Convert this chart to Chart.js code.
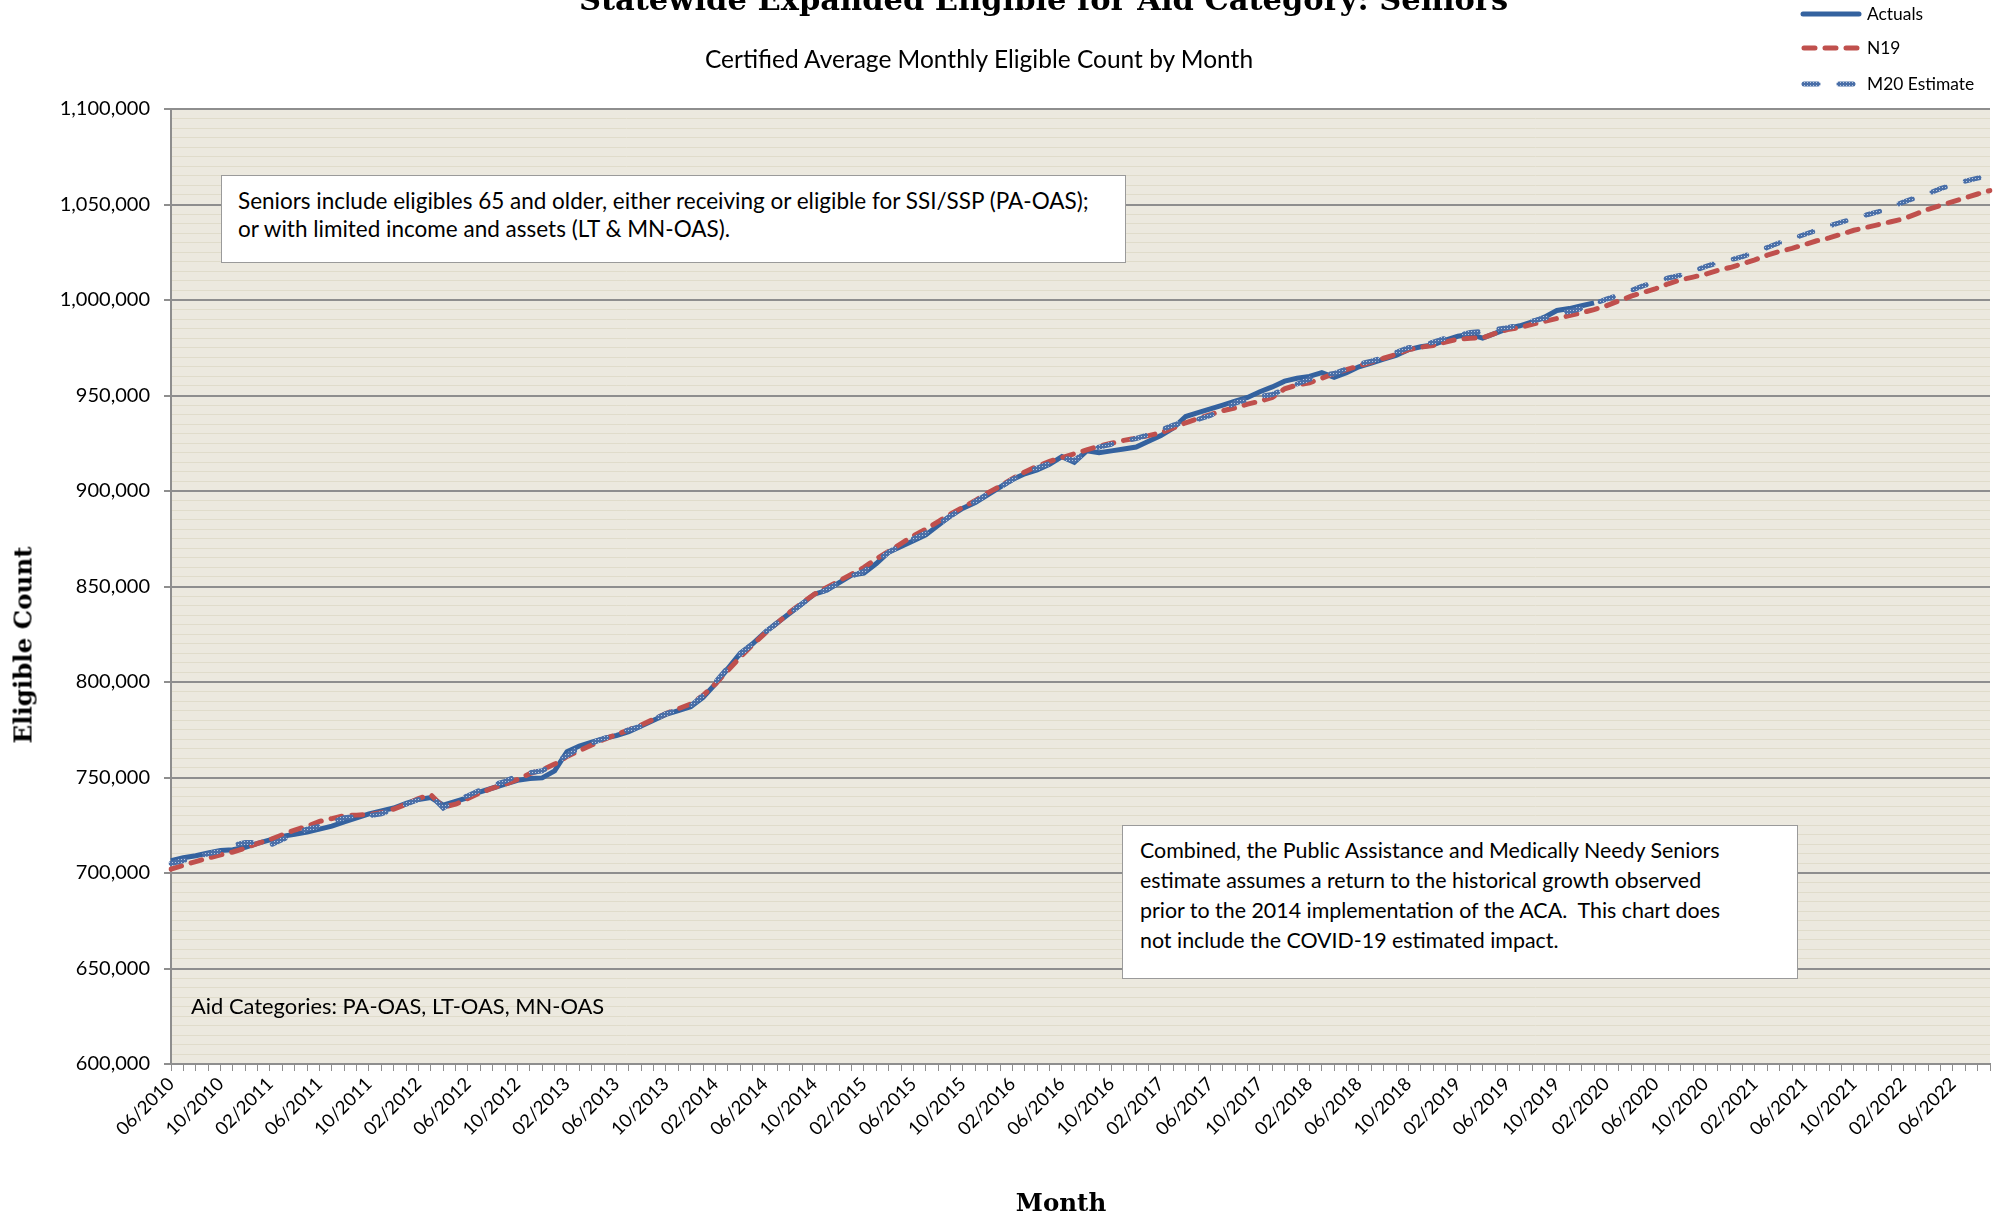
<!DOCTYPE html>
<html>
<head>
<meta charset="utf-8">
<script src="https://cdn.jsdelivr.net/npm/chart.js@4.4.1/dist/chart.umd.min.js"></script>
<style>
  body { margin: 0; background: #fff; }
  #wrap { position: relative; width: 1999px; height: 1217px; overflow: hidden; font-family: Lato, "Liberation Sans", sans-serif; color: #000; }
  #chart { position: absolute; left: 0; top: 0; }
  .title { position: absolute; left: 0; width: 2087px; text-align: center; top: -19px; font: bold 30.5px "DejaVu Serif", serif; white-space: nowrap; }
  .subtitle { position: absolute; left: 0; width: 1958px; text-align: center; top: 44px; font-size: 24.5px; white-space: nowrap; }
  .axis-title { position: absolute; font: bold 24.5px "DejaVu Serif", serif; white-space: nowrap; transform: translate(-50%, -50%); }
  .legend { position: absolute; left: 1800px; top: 0; font-size: 17.4px; }
  .legend div { position: absolute; left: 0; height: 20px; white-space: nowrap; }
  .legend svg { position: absolute; left: 0; top: 4px; }
  .legend span { position: absolute; left: 67px; top: 0; line-height: 20px; }
  .note { position: absolute; background: #fff; border: 1.5px solid #9a9a9a; white-space: nowrap; box-sizing: border-box; }
  .plain { position: absolute; font-size: 21.9px; white-space: nowrap; }
</style>
</head>
<body>
<div id="wrap">
  <canvas id="chart" width="1999" height="1217"></canvas>
  <div class="title">Statewide Expanded Eligible for Aid Category: Seniors</div>
  <div class="subtitle">Certified Average Monthly Eligible Count by Month</div>
  <div class="axis-title" style="left:23px;top:645px;transform:translate(-50%, -50%) rotate(-90deg);">Eligible Count</div>
  <div class="axis-title" style="left:1061px;top:1202px;">Month</div>
  <div class="legend">
    <div style="top:4px"><svg width="62" height="12"><line x1="3" y1="6" x2="59" y2="6" stroke="#34629F" stroke-width="5" stroke-linecap="round"/></svg><span>Actuals</span></div>
    <div style="top:38px"><svg width="62" height="12"><line x1="4" y1="6" x2="59" y2="6" stroke="#C0504D" stroke-width="5" stroke-linecap="round" stroke-dasharray="11 10"/></svg><span>N19</span></div>
    <div style="top:74px"><svg width="62" height="12"><defs><pattern id="hatch" width="3" height="3" patternUnits="userSpaceOnUse"><rect width="3" height="3" fill="#4A6FA8"/><rect x="1" y="1" width="1" height="1" fill="#B9C8E0"/></pattern></defs><line x1="4" y1="6" x2="59" y2="6" stroke="url(#hatch)" stroke-width="5" stroke-linecap="round" stroke-dasharray="14 21"/></svg><span>M20 Estimate</span></div>
  </div>
  <div class="note" style="left:221px;top:175px;width:905px;height:88px;padding:11px 0 0 16px;line-height:28px;font-size:22.5px;">Seniors include eligibles 65 and older, either receiving or eligible for SSI/SSP (PA-OAS);<br>or with limited income and assets (LT &amp; MN-OAS).</div>
  <div class="note" style="left:1122px;top:825px;width:676px;height:154px;padding:9px 0 0 17px;line-height:30px;font-size:21.4px;">Combined, the Public Assistance and Medically Needy Seniors<br>estimate assumes a return to the historical growth observed<br>prior to the 2014 implementation of the ACA.&nbsp; This chart does<br>not include the COVID-19 estimated impact.</div>
  <div class="plain" style="left:191px;top:992px;">Aid Categories: PA-OAS, LT-OAS, MN-OAS</div>
</div>
<script>
// months 06/2010 .. 09/2022, one category per month, label every 4th
const firstYear = 2010, firstMonth = 6, monthCount = 148;
const months = [];
for (let i = 0; i < monthCount; i++) {
    const m = (firstMonth - 1 + i) % 12 + 1;
    const y = firstYear + Math.floor((firstMonth - 1 + i) / 12);
    months.push((m < 10 ? '0' : '') + m + '/' + y);
}

// Actuals: 06/2010 .. 01/2020
const actuals = [
    706500, 708000, 709000, 710500, 711800, 712200, 713500, 715500, 717300, 719200,
    720300, 721500, 723000, 724500, 726800, 728800, 731000, 732500, 734000, 736500,
    738500, 739500, 735500, 737500, 739500, 742500, 744500, 746500, 748500, 749500,
    749800, 753500, 763500, 766500, 768500, 770500, 772000, 774000, 777000, 780000,
    783000, 785000, 787000, 792000, 799000, 807000, 815000, 820000, 826000, 831000,
    836000, 841000, 846000, 848000, 852000, 856000, 857000, 862000, 868000, 871000,
    874000, 877000, 882000, 887000, 891000, 894000, 898000, 902000, 906000, 909000,
    911000, 914000, 918000, 915000, 921000, 920000, 921000, 922000, 923000, 926000,
    929000, 933000, 939000, 941000, 943000, 945000, 947000, 949000, 952000, 954500,
    957500, 959000, 960000, 962000, 959500, 962000, 965000, 967000, 969000, 971000,
    974000, 975500, 976500, 979000, 981000, 982000, 980000, 982500, 985000, 986500,
    988500, 991000, 994500, 995500, 997000, 998500
];

// N19 projection
const n19 = [
    702000, 704000, 706000, 707800, 709500, 711000, 713000, 715500, 717500, 720000,
    722500, 724500, 727000, 728500, 730000, 730300, 730600, 731500, 733500, 736000,
    739000, 741000, 734500, 736000, 739000, 742000, 744500, 746500, 749000, 752000,
    754000, 757000, 761000, 764000, 767000, 770000, 772500, 775000, 777500, 780500,
    783500, 786000, 788500, 793000, 799000, 806000, 813000, 819500, 825500, 831000,
    836500, 841500, 846000, 849500, 853000, 856500, 860000, 864500, 868500, 872500,
    876500, 880000, 884000, 888000, 891500, 895000, 899000, 902500, 906500, 910000,
    913000, 915500, 917500, 919500, 921500, 923500, 925000, 926500, 927700, 929000,
    930500, 933000, 935700, 938000, 940000, 942000, 943500, 945500, 947000, 949000,
    953500, 955500, 956700, 959000, 961500, 963500, 965500, 967500, 969500, 971500,
    974000, 975300, 976200, 978000, 979500, 980000, 980200, 982500, 984500, 985500,
    987300, 988800, 990300, 991800, 993300, 995000, 997000, 999500, 1002000, 1004000,
    1006000, 1008500, 1010500, 1012000, 1013500, 1015500, 1017000, 1019000, 1021000, 1023500,
    1025500, 1027000, 1029000, 1031000, 1032500, 1034500, 1036500, 1038000, 1039500, 1041000,
    1042500, 1045000, 1047500, 1049500, 1051500, 1053500, 1055500, 1057300
];

// M20 estimate
const m20 = [
    705000, 706500, 708500, 710000, 711500, 714500, 716000, 716000, 714500, 717500,
    720500, 723000, 724500, 726500, 729000, 729500, 730000, 731000, 733500, 736000,
    738500, 740500, 734000, 738000, 740500, 743500, 746000, 748000, 751000, 752500,
    753500, 757500, 761500, 765500, 768000, 770500, 772500, 775000, 777000, 780500,
    783500, 785500, 787500, 793000, 800000, 807500, 814500, 820000, 826000, 831000,
    836000, 841000, 845500, 848500, 852000, 855500, 858000, 863000, 868000, 871500,
    875000, 878000, 882500, 887000, 891000, 894500, 898500, 902000, 906000, 909500,
    912000, 914500, 917500, 916000, 921000, 923000, 924500, 926000, 927500, 929500,
    932000, 934500, 936500, 937500, 939500, 943000, 946000, 948000, 949500, 950500,
    953500, 956000, 958500, 960500, 961500, 964000, 966500, 968000, 970000, 972500,
    975000, 976000, 978000, 980000, 981500, 983000, 983500, 984500, 985500, 987000,
    989000, 990500, 992500, 994000, 995500, 998000, 1000500, 1002500, 1005000, 1007500,
    1009500, 1011500, 1013000, 1015000, 1017500, 1019500, 1021000, 1022700, 1025000, 1027500,
    1030000, 1032000, 1034300, 1036500, 1038800, 1040800, 1042500, 1044500, 1046300, 1048500,
    1051300, 1053500, 1055700, 1058300, 1060300, 1062200, 1063800, 1065500
];

const yMin = 600000, yMax = 1100000, yMajor = 50000, yMinor = 5000;

// dotted fill for the M20 line
function hatchPattern(ctx) {
    const c = document.createElement('canvas');
    c.width = 3; c.height = 3;
    const p = c.getContext('2d');
    p.fillStyle = '#4A6FA8';
    p.fillRect(0, 0, 3, 3);
    p.fillStyle = '#B9C8E0';
    p.fillRect(1, 1, 1, 1);
    return ctx.createPattern(c, 'repeat');
}

const plotBackground = {
    id: 'plotBackground',
    beforeDraw(chart) {
        const a = chart.chartArea, ctx = chart.ctx;
        ctx.save();
        ctx.fillStyle = '#ECE9DF';
        ctx.fillRect(a.left, a.top, a.right - a.left, a.bottom - a.top);
        ctx.restore();
    }
};

const sans = 'Lato, "Liberation Sans", sans-serif';
const ctx = document.getElementById('chart').getContext('2d');

new Chart(ctx, {
    type: 'line',
    data: {
        labels: months,
        datasets: [
            {
                label: 'Actuals',
                data: actuals,
                borderColor: '#34629F',
                borderWidth: 5,
                pointRadius: 0,
                tension: 0,
                order: 3
            },
            {
                label: 'N19',
                data: n19,
                borderColor: '#C0504D',
                borderWidth: 5,
                borderDash: [11, 10],
                borderCapStyle: 'round',
                pointRadius: 0,
                tension: 0,
                order: 2
            },
            {
                label: 'M20 Estimate',
                data: m20,
                borderColor: hatchPattern(ctx),
                borderWidth: 5,
                borderDash: [14, 21],
                borderCapStyle: 'round',
                pointRadius: 0,
                tension: 0,
                order: 1
            }
        ]
    },
    options: {
        responsive: false,
        animation: false,
        layout: { padding: { left: 0, top: 109, right: 9, bottom: 0 } },
        plugins: {
            legend: { display: false },
            title: { display: false },
            tooltip: { enabled: false }
        },
        scales: {
            x: {
                offset: false,
                afterFit: s => { s.height = 153; s.paddingRight = 0; s.paddingLeft = 0; },
                border: { color: '#8E8E8E', width: 2 },
                grid: { drawOnChartArea: false, drawTicks: true, tickLength: 7, color: '#8E8E8E', lineWidth: 1 },
                ticks: {
                    autoSkip: false,
                    maxRotation: 45,
                    minRotation: 45,
                    padding: 2,
                    color: '#000',
                    font: { family: sans, size: 18.5 },
                    callback: function(v, i) { return i % 4 === 0 ? months[i] : ''; }
                }
            },
            y: {
                min: yMin,
                max: yMax,
                afterFit: s => { s.width = 171; },
                border: { color: '#8E8E8E', width: 2 },
                grid: {
                    drawTicks: true,
                    tickLength: 7,
                    color: c => (c.tick && c.tick.value % yMajor === 0) ? '#8E8E8E' : '#E0DCCB',
                    lineWidth: c => (c.tick && c.tick.value % yMajor === 0) ? 2 : 1,
                    tickColor: c => (c.tick && c.tick.value % yMajor === 0) ? '#8E8E8E' : 'rgba(0,0,0,0)'
                },
                ticks: {
                    stepSize: yMinor,
                    autoSkip: false,
                    padding: 14,
                    color: '#000',
                    font: { family: sans, size: 20 },
                    callback: v => v % yMajor === 0 ? v.toLocaleString('en-US') : ''
                }
            }
        }
    },
    plugins: [plotBackground]
});
</script>
</body>
</html>
